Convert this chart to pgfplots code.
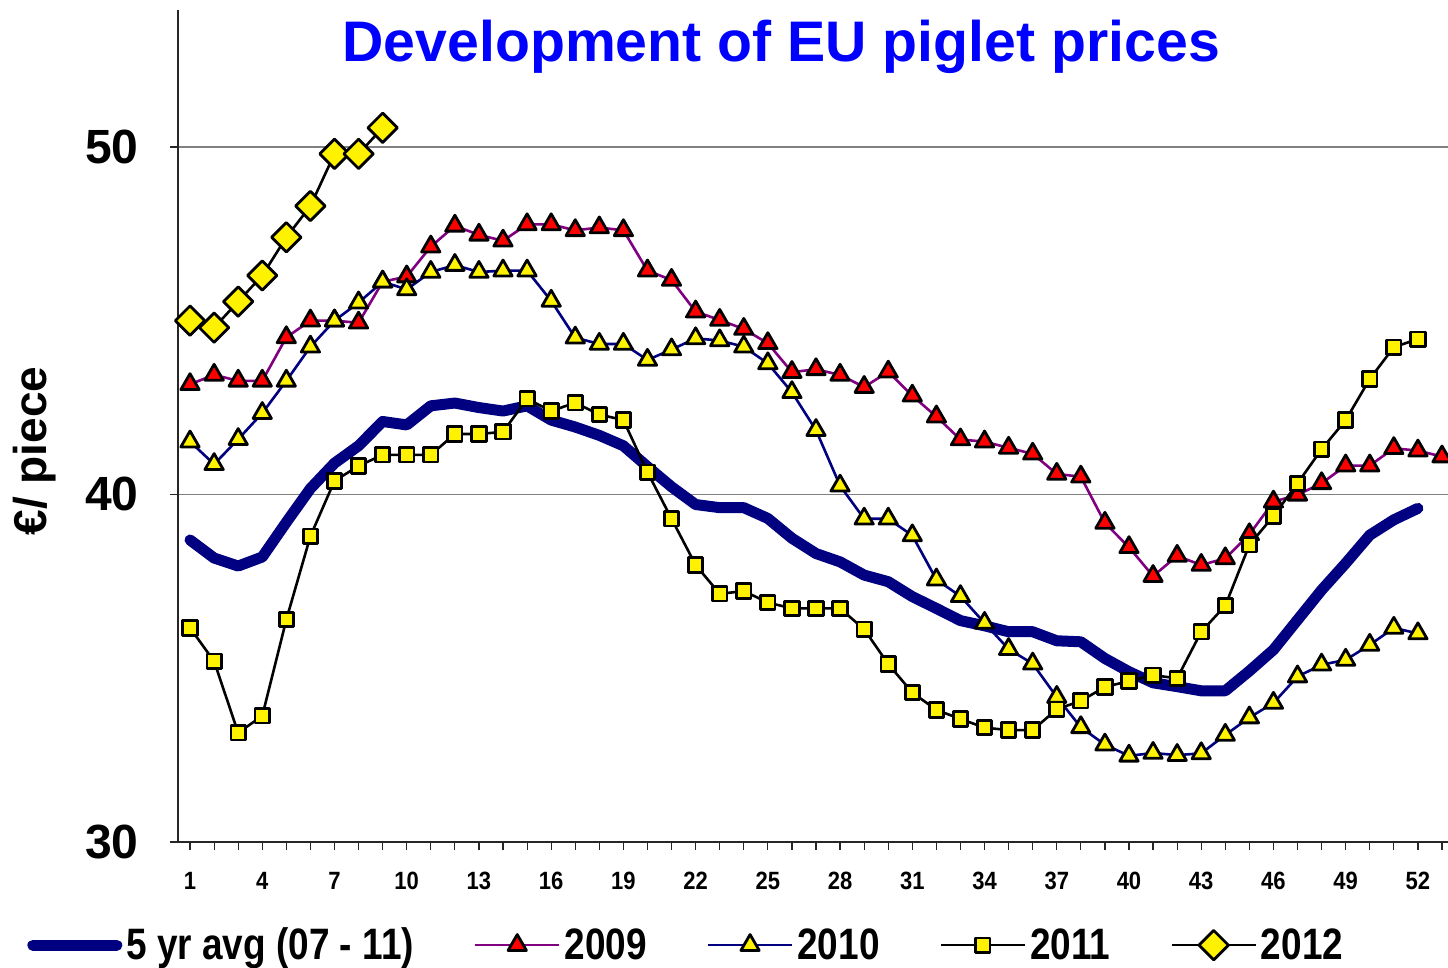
\documentclass[border=0pt]{standalone}
\usepackage{pgfplots}
\pgfplotsset{compat=1.18}
\usepackage{pgfplotstable}
\usepackage{fontspec}
\setmainfont{Liberation Sans}

\definecolor{navyline}{HTML}{000080}
\definecolor{purpleline}{HTML}{800080}
\definecolor{titleblue}{HTML}{0000FF}

% EU piglet prices, EUR per piece, by week
\pgfplotstableread{
week avg   y2009 y2010 y2011 y2012
1    38.69 43.17 41.52 36.16 45.00
2    38.17 43.44 40.87 35.20 44.80
3    37.94 43.27 41.59 33.14 45.55
4    38.20 43.27 42.34 33.63 46.30
5    39.20 44.52 43.27 36.40 47.40
6    40.17 45.00 44.25 38.80 48.30
7    40.90 45.00 45.00 40.39 49.80
8    41.40 44.94 45.52 40.82 49.80
9    42.10 46.12 46.12 41.14 50.55
10   42.00 46.27 45.90 41.14 nan
11   42.55 47.13 46.40 41.14 nan
12   42.63 47.73 46.60 41.74 nan
13   42.50 47.47 46.40 41.74 nan
14   42.40 47.30 46.44 41.80 nan
15   42.55 47.77 46.44 42.75 nan
16   42.14 47.77 45.57 42.40 nan
17   41.94 47.60 44.51 42.64 nan
18   41.70 47.68 44.33 42.30 nan
19   41.40 47.60 44.33 42.14 nan
20   40.80 46.44 43.87 40.64 nan
21   40.22 46.17 44.17 39.30 nan
22   39.71 45.26 44.49 37.97 nan
23   39.62 45.02 44.43 37.14 nan
24   39.62 44.76 44.25 37.22 nan
25   39.31 44.35 43.77 36.89 nan
26   38.74 43.52 42.94 36.72 nan
27   38.30 43.60 41.85 36.72 nan
28   38.06 43.44 40.25 36.72 nan
29   37.68 43.09 39.30 36.12 nan
30   37.49 43.53 39.30 35.12 nan
31   37.06 42.84 38.82 34.30 nan
32   36.72 42.24 37.55 33.80 nan
33   36.37 41.58 37.07 33.54 nan
34   36.22 41.52 36.30 33.29 nan
35   36.05 41.34 35.55 33.22 nan
36   36.05 41.17 35.13 33.22 nan
37   35.79 40.59 34.17 33.82 nan
38   35.76 40.51 33.30 34.06 nan
39   35.28 39.18 32.80 34.46 nan
40   34.90 38.48 32.48 34.63 nan
41   34.58 37.65 32.56 34.80 nan
42   34.47 38.23 32.50 34.71 nan
43   34.35 37.97 32.55 36.05 nan
44   34.35 38.16 33.08 36.80 nan
45   34.92 38.85 33.58 38.55 nan
46   35.53 39.79 34.00 39.38 nan
47   36.39 39.99 34.76 40.32 nan
48   37.25 40.32 35.10 41.30 nan
49   38.02 40.83 35.24 42.14 nan
50   38.83 40.83 35.67 43.32 nan
51   39.27 41.33 36.16 44.24 nan
52   39.60 41.26 36.00 44.47 nan
53   nan   41.09 nan   nan   nan
}\prices

\begin{document}
\begin{tikzpicture}
\begin{axis}[
    scale only axis,
    width=635pt, height=416pt,
    xmin=0.5, xmax=53.25,
    ymin=30, ymax=53.94,
    axis x line=bottom, axis y line=left,
    axis line style={-, line width=0.7pt, black!85},
    xtick={1,4,...,52},
    minor xtick={1,...,53},
    ytick={30,40,50},
    tick align=outside,
    major tick length=4pt, minor tick length=4pt,
    tick style={black!85, line width=0.6pt},
    ymajorgrids,
    grid style={gray, line width=0.6pt},
    /pgf/number format/assume math mode=true,
    xticklabel={\scalebox{0.88}[1]{\pgfmathprintnumber{\tick}}},
    xticklabel style={font=\bfseries\fontsize{12.5}{13}\selectfont, anchor=north, inner sep=0pt, yshift=-11pt},
    yticklabel={\pgfmathprintnumber{\tick}},
    yticklabel style={font=\bfseries\fontsize{24}{25}\selectfont, anchor=east, inner sep=0pt, xshift=-15.5pt},
    title={Development of EU piglet prices},
    title style={at={(axis description cs:0.475,0.941)}, anchor=center,
        font=\bfseries\fontsize{28.6}{30}\selectfont, text=titleblue},
    ylabel={€/ piece},
    every axis y label/.style={at={(axis description cs:-0.113,0.47)}, rotate=90, anchor=center,
        font=\bfseries\fontsize{23}{24}\selectfont},
    legend columns=5,
    legend cell align=left,
    legend style={draw=none, fill=none, at={(axis description cs:0.401,-0.124)}, anchor=center,
        font=\bfseries\fontsize{22}{22}\selectfont,
        /tikz/every even column/.append style={column sep=28pt}},
    legend image code/.code={
        \draw[mark repeat=2, mark phase=2, #1] plot coordinates {(0pt,0pt) (21pt,0pt) (42pt,0pt)};
    },
    line join=round,
]
\addplot[navyline, line width=5.5pt, line cap=round, no markers] table[x=week, y=avg] {\prices};
\addlegendentry{\scalebox{0.84}[1]{5 yr avg (07 - 11)}}

\addplot[purpleline, line width=1.3pt, mark=triangle*, mark size=5.3pt,
    mark options={fill=red, draw=black, line width=1.4pt}] table[x=week, y=y2009] {\prices};
\addlegendentry{\scalebox{0.84}[1]{2009}}

\addplot[navyline, line width=1.3pt, mark=triangle*, mark size=5.3pt,
    mark options={fill=yellow, draw=black, line width=1.4pt}] table[x=week, y=y2010] {\prices};
\addlegendentry{\scalebox{0.84}[1]{2010}}

\addplot[black, line width=1.3pt, mark=square*, mark size=3.6pt,
    mark options={fill=yellow, draw=black, line width=1.4pt}] table[x=week, y=y2011] {\prices};
\addlegendentry{\scalebox{0.84}[1]{2011}}

\addplot[black, line width=1.3pt, mark=square*, mark size=5.2pt,
    mark options={fill=yellow, draw=black, line width=1.4pt, rotate=45}] table[x=week, y=y2012] {\prices};
\addlegendentry{\scalebox{0.84}[1]{2012}}
\end{axis}
\pgfresetboundingbox
\path[use as bounding box] (-89pt,-63pt) rectangle (635pt,421pt);
\end{tikzpicture}
\end{document}
